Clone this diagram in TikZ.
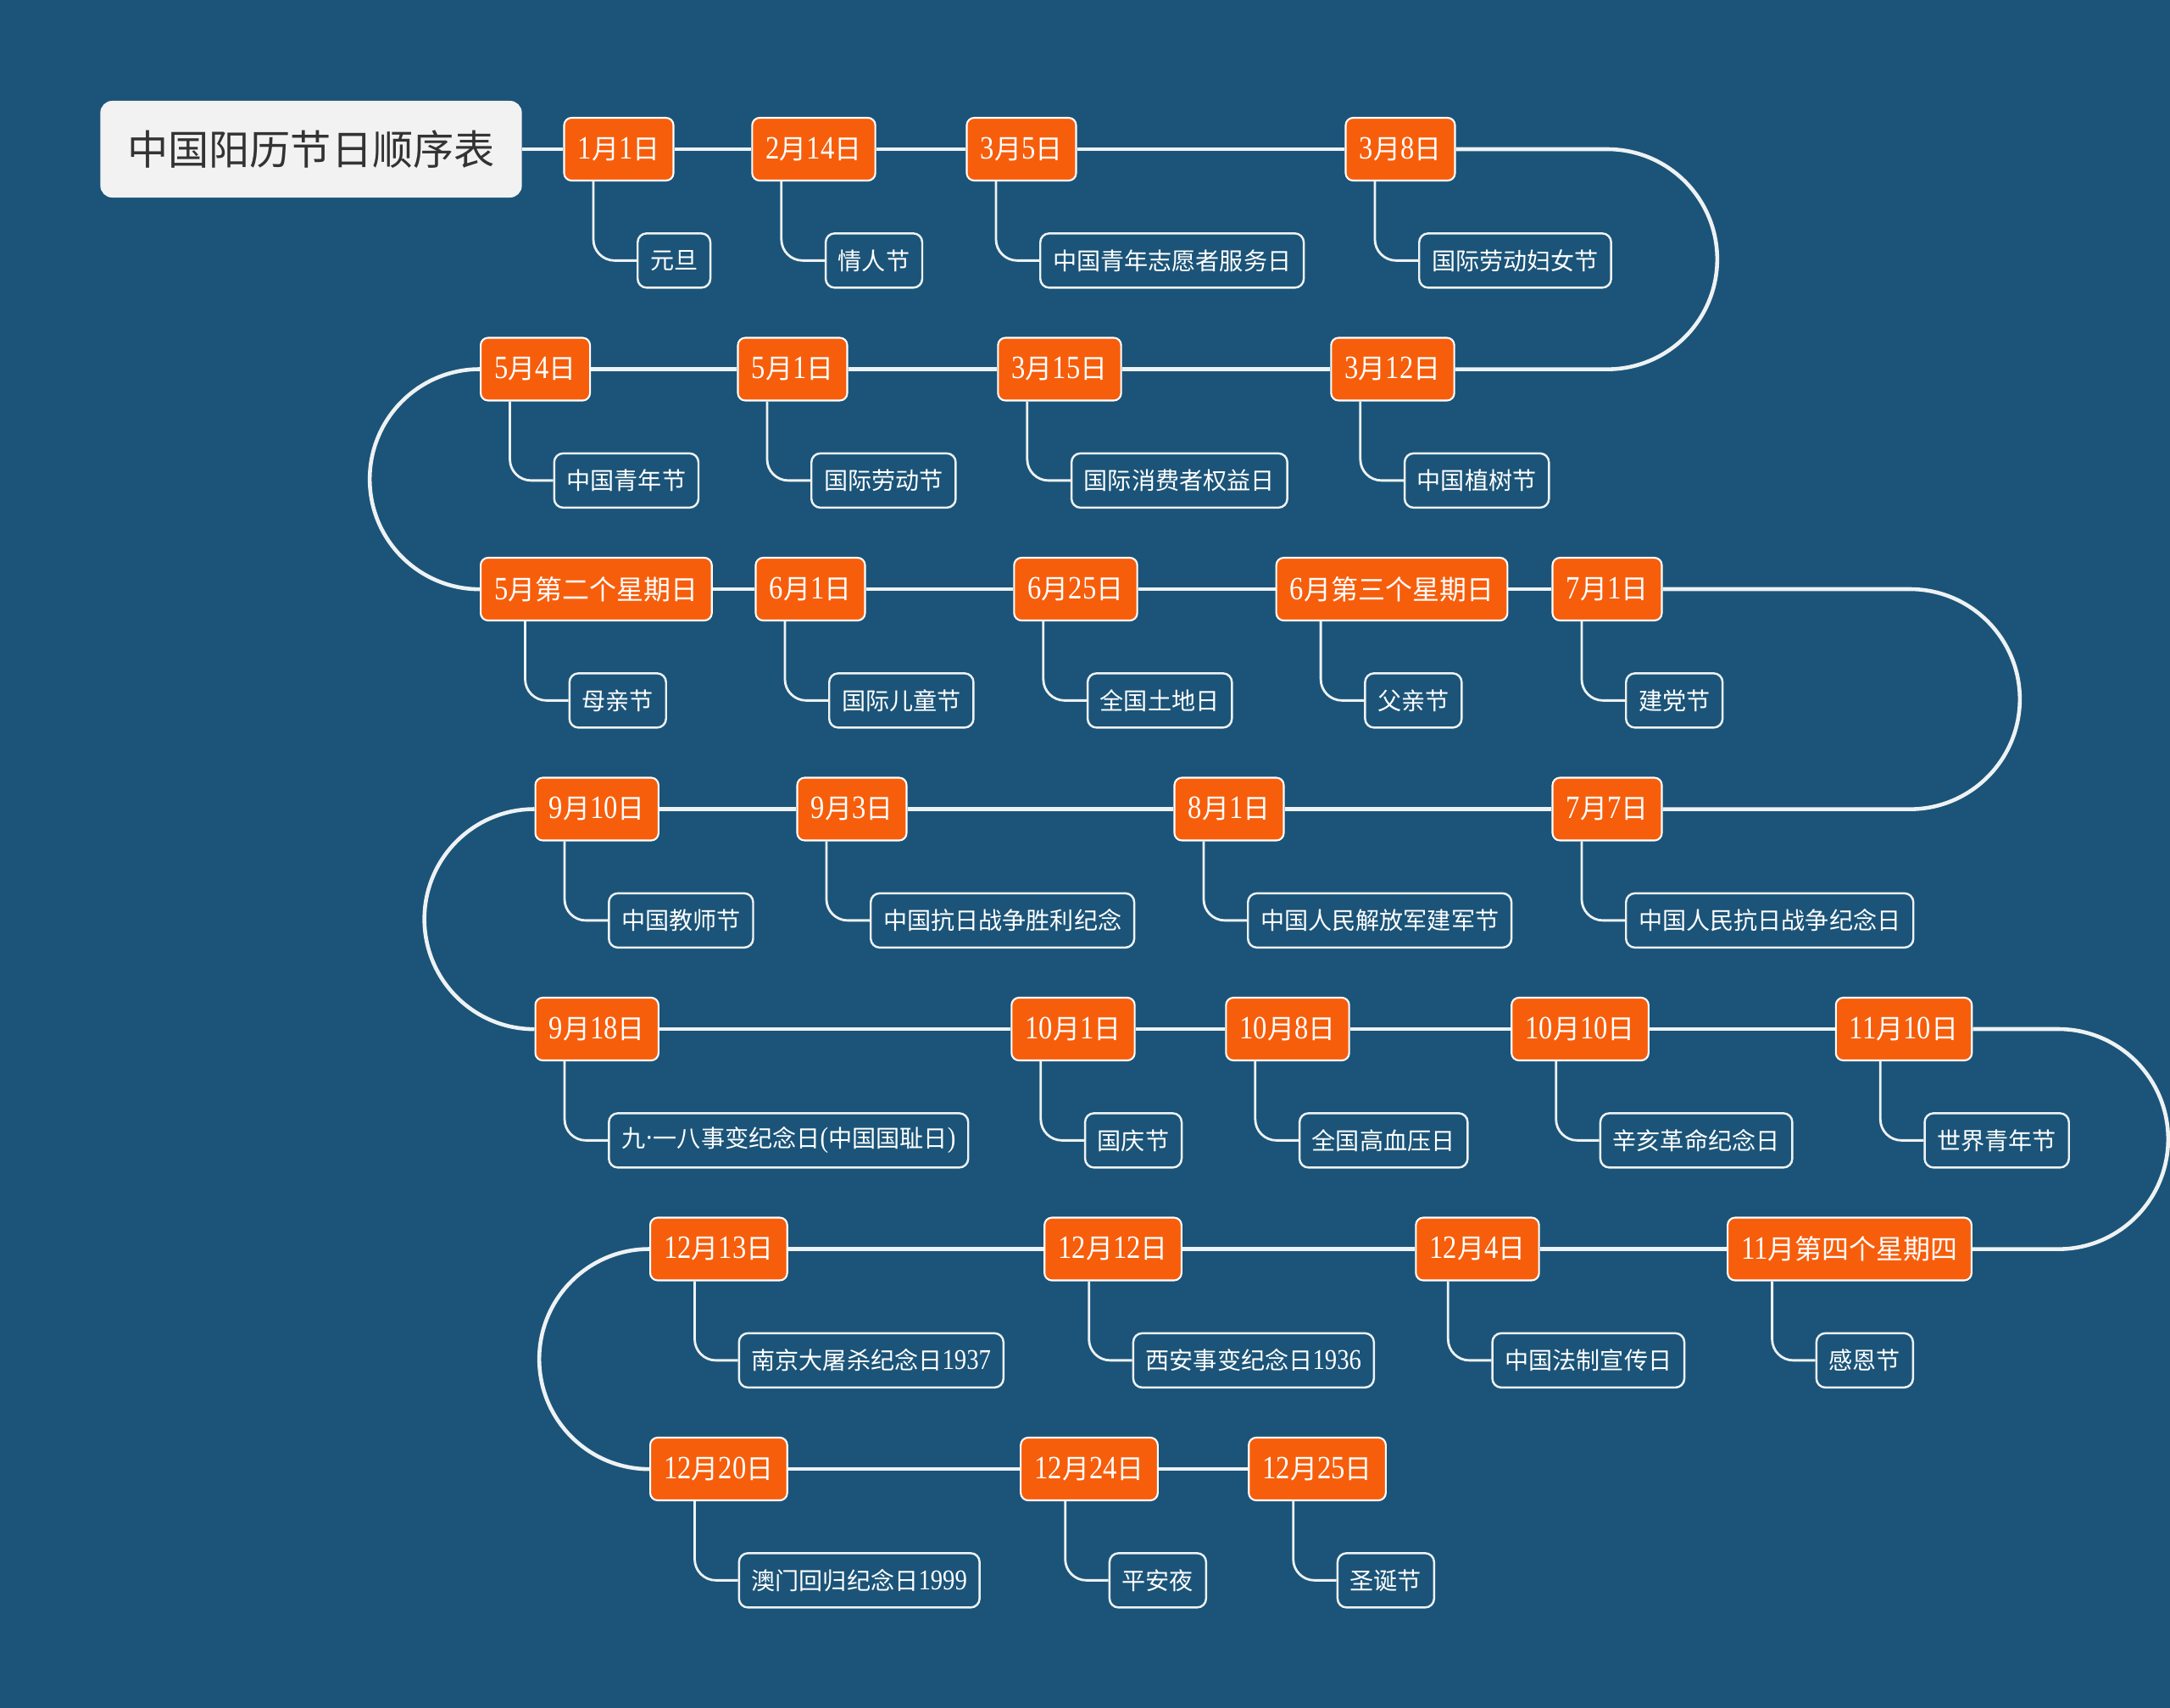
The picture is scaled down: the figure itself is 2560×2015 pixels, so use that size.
\documentclass[tikz,border=0pt]{standalone}
\usepackage{fontspec}
\setmainfont{Noto Sans CJK SC}
\newfontfamily\numfont{Liberation Serif}[Scale=1.2,FakeStretch=0.85]
\usetikzlibrary{positioning}
\definecolor{BgBlue}{HTML}{1B5478}
\definecolor{DateOrange}{HTML}{F65E0C}
\definecolor{LineWhite}{HTML}{EEF2F4}
\definecolor{TitleGray}{HTML}{F2F2F2}
\definecolor{TitleText}{HTML}{333333}
\newcommand{\dnum}[1]{{\numfont #1}}
\newcommand{\mday}[2]{\dnum{#1}月\dnum{#2}日}

\begin{document}
\begin{tikzpicture}[
    x=0.01cm, y=-0.01cm,
    datebox/.style={rectangle, draw=white, line width=0.6pt, fill=DateOrange, rounded corners=2.5pt, minimum height=0.74cm, inner xsep=4.6pt, inner ysep=0pt, font=\fontsize{9.1}{11}\selectfont, text=white},
    eventbox/.style={rectangle, draw=LineWhite, line width=0.7pt, fill=BgBlue, rounded corners=3pt, minimum height=0.64cm, inner xsep=4.2pt, inner ysep=0pt, font=\fontsize{8}{10}\selectfont, text=white},
    titlebox/.style={rectangle, fill=TitleGray, rounded corners=4pt, minimum width=4.97cm, minimum height=1.14cm, font=\fontsize{13.7}{16}\selectfont, text=TitleText},
    trunk/.style={LineWhite, line width=1.3pt},
    branch/.style={LineWhite, line width=0.8pt, rounded corners=0.25cm}
  ]
  \useasboundingbox (0,0) rectangle (2560,2015);
  \fill[BgBlue] (0,0) rectangle (2560,2015);

  % dates
  \node[titlebox] (title) at (367,176) {中国阳历节日顺序表};
  \node[datebox] (d1) at (730,176) {\mday{1}{1}};
  \node[datebox] (d2) at (960,176) {\mday{2}{14}};
  \node[datebox] (d3) at (1205,176) {\mday{3}{5}};
  \node[datebox] (d4) at (1652,176) {\mday{3}{8}};

  \node[datebox] (d5) at (1643,435.5) {\mday{3}{12}};
  \node[datebox] (d6) at (1250,435.5) {\mday{3}{15}};
  \node[datebox] (d7) at (935,435.5) {\mday{5}{1}};
  \node[datebox, anchor=west] (d8) at (566,435.5) {\mday{5}{4}};

  \node[datebox, anchor=west] (d9) at (566,695) {\dnum{5}月第二个星期日};
  \node[datebox] (d10) at (956,695) {\mday{6}{1}};
  \node[datebox] (d11) at (1269,695) {\mday{6}{25}};
  \node[datebox] (d12) at (1642,695) {\dnum{6}月第三个星期日};
  \node[datebox] (d13) at (1896,695) {\mday{7}{1}};

  \node[datebox] (d14) at (1896,954.5) {\mday{7}{7}};
  \node[datebox] (d15) at (1450,954.5) {\mday{8}{1}};
  \node[datebox] (d16) at (1005,954.5) {\mday{9}{3}};
  \node[datebox, anchor=west] (d17) at (630.5,954.5) {\mday{9}{10}};

  \node[datebox, anchor=west] (d18) at (630.5,1214) {\mday{9}{18}};
  \node[datebox] (d19) at (1266,1214) {\mday{10}{1}};
  \node[datebox] (d20) at (1519,1214) {\mday{10}{8}};
  \node[datebox] (d21) at (1864,1214) {\mday{10}{10}};
  \node[datebox] (d22) at (2246,1214) {\mday{11}{10}};

  \node[datebox] (d23) at (2182,1473.5) {\dnum{11}月第四个星期四};
  \node[datebox] (d24) at (1743,1473.5) {\mday{12}{4}};
  \node[datebox] (d25) at (1313,1473.5) {\mday{12}{12}};
  \node[datebox, anchor=west] (d26) at (766,1473.5) {\mday{12}{13}};

  \node[datebox, anchor=west] (d27) at (766,1733) {\mday{12}{20}};
  \node[datebox] (d28) at (1285,1733) {\mday{12}{24}};
  \node[datebox] (d29) at (1554,1733) {\mday{12}{25}};

  % holidays
  \node[eventbox, below right=0.6cm and 0.865cm of d1.south west] (e1) {元旦};
  \node[eventbox, below right=0.6cm and 0.865cm of d2.south west] (e2) {情人节};
  \node[eventbox, below right=0.6cm and 0.865cm of d3.south west] (e3) {中国青年志愿者服务日};
  \node[eventbox, below right=0.6cm and 0.865cm of d4.south west] (e4) {国际劳动妇女节};
  \node[eventbox, below right=0.6cm and 0.865cm of d5.south west] (e5) {中国植树节};
  \node[eventbox, below right=0.6cm and 0.865cm of d6.south west] (e6) {国际消费者权益日};
  \node[eventbox, below right=0.6cm and 0.865cm of d7.south west] (e7) {国际劳动节};
  \node[eventbox, below right=0.6cm and 0.865cm of d8.south west] (e8) {中国青年节};
  \node[eventbox, below right=0.6cm and 1.045cm of d9.south west] (e9) {母亲节};
  \node[eventbox, below right=0.6cm and 0.865cm of d10.south west] (e10) {国际儿童节};
  \node[eventbox, below right=0.6cm and 0.865cm of d11.south west] (e11) {全国土地日};
  \node[eventbox, below right=0.6cm and 1.045cm of d12.south west] (e12) {父亲节};
  \node[eventbox, below right=0.6cm and 0.865cm of d13.south west] (e13) {建党节};
  \node[eventbox, below right=0.6cm and 0.865cm of d14.south west] (e14) {中国人民抗日战争纪念日};
  \node[eventbox, below right=0.6cm and 0.865cm of d15.south west] (e15) {中国人民解放军建军节};
  \node[eventbox, below right=0.6cm and 0.865cm of d16.south west] (e16) {中国抗日战争胜利纪念};
  \node[eventbox, below right=0.6cm and 0.865cm of d17.south west] (e17) {中国教师节};
  \node[eventbox, below right=0.6cm and 0.865cm of d18.south west] (e18) {九\dnum{·}一八事变纪念日\dnum{(}中国国耻日\dnum{)}};
  \node[eventbox, below right=0.6cm and 0.865cm of d19.south west] (e19) {国庆节};
  \node[eventbox, below right=0.6cm and 0.865cm of d20.south west] (e20) {全国高血压日};
  \node[eventbox, below right=0.6cm and 1.045cm of d21.south west] (e21) {辛亥革命纪念日};
  \node[eventbox, below right=0.6cm and 1.045cm of d22.south west] (e22) {世界青年节};
  \node[eventbox, below right=0.6cm and 1.045cm of d23.south west] (e23) {感恩节};
  \node[eventbox, below right=0.6cm and 0.9cm of d24.south west] (e24) {中国法制宣传日};
  \node[eventbox, below right=0.6cm and 1.045cm of d25.south west] (e25) {西安事变纪念日\dnum{1936}};
  \node[eventbox, below right=0.6cm and 1.045cm of d26.south west] (e26) {南京大屠杀纪念日\dnum{1937}};
  \node[eventbox, below right=0.6cm and 1.045cm of d27.south west] (e27) {澳门回归纪念日\dnum{1999}};
  \node[eventbox, below right=0.6cm and 1.045cm of d28.south west] (e28) {平安夜};
  \node[eventbox, below right=0.6cm and 1.045cm of d29.south west] (e29) {圣诞节};

  % main line
  \draw[trunk] (title) -- (d1);
  \draw[trunk] (d1) -- (d2);
  \draw[trunk] (d2) -- (d3);
  \draw[trunk] (d3) -- (d4);
  \draw[trunk] (d4) -- (1896,176) arc[start angle=90, end angle=-90, radius=1.2975cm] -- (d5);
  \draw[trunk] (d5) -- (d6);
  \draw[trunk] (d6) -- (d7);
  \draw[trunk] (d7) -- (d8);
  \draw[trunk] (d8.west) arc[start angle=90, end angle=270, radius=1.2975cm];
  \draw[trunk] (d9) -- (d10);
  \draw[trunk] (d10) -- (d11);
  \draw[trunk] (d11) -- (d12);
  \draw[trunk] (d12) -- (d13);
  \draw[trunk] (d13) -- (2253,695) arc[start angle=90, end angle=-90, radius=1.2975cm] -- (d14);
  \draw[trunk] (d14) -- (d15);
  \draw[trunk] (d15) -- (d16);
  \draw[trunk] (d16) -- (d17);
  \draw[trunk] (d17.west) arc[start angle=90, end angle=270, radius=1.2975cm];
  \draw[trunk] (d18) -- (d19);
  \draw[trunk] (d19) -- (d20);
  \draw[trunk] (d20) -- (d21);
  \draw[trunk] (d21) -- (d22);
  \draw[trunk] (d22) -- (2428,1214) arc[start angle=90, end angle=-90, radius=1.2975cm] -- (d23);
  \draw[trunk] (d23) -- (d24);
  \draw[trunk] (d24) -- (d25);
  \draw[trunk] (d25) -- (d26);
  \draw[trunk] (d26.west) arc[start angle=90, end angle=270, radius=1.2975cm];
  \draw[trunk] (d27) -- (d28);
  \draw[trunk] (d28) -- (d29);

  % branches
  \draw[branch] (d1.south -| e1.west) ++(-0.51cm,0) |- (e1.west);
  \draw[branch] (d2.south -| e2.west) ++(-0.51cm,0) |- (e2.west);
  \draw[branch] (d3.south -| e3.west) ++(-0.51cm,0) |- (e3.west);
  \draw[branch] (d4.south -| e4.west) ++(-0.51cm,0) |- (e4.west);
  \draw[branch] (d5.south -| e5.west) ++(-0.51cm,0) |- (e5.west);
  \draw[branch] (d6.south -| e6.west) ++(-0.51cm,0) |- (e6.west);
  \draw[branch] (d7.south -| e7.west) ++(-0.51cm,0) |- (e7.west);
  \draw[branch] (d8.south -| e8.west) ++(-0.51cm,0) |- (e8.west);
  \draw[branch] (d9.south -| e9.west) ++(-0.51cm,0) |- (e9.west);
  \draw[branch] (d10.south -| e10.west) ++(-0.51cm,0) |- (e10.west);
  \draw[branch] (d11.south -| e11.west) ++(-0.51cm,0) |- (e11.west);
  \draw[branch] (d12.south -| e12.west) ++(-0.51cm,0) |- (e12.west);
  \draw[branch] (d13.south -| e13.west) ++(-0.51cm,0) |- (e13.west);
  \draw[branch] (d14.south -| e14.west) ++(-0.51cm,0) |- (e14.west);
  \draw[branch] (d15.south -| e15.west) ++(-0.51cm,0) |- (e15.west);
  \draw[branch] (d16.south -| e16.west) ++(-0.51cm,0) |- (e16.west);
  \draw[branch] (d17.south -| e17.west) ++(-0.51cm,0) |- (e17.west);
  \draw[branch] (d18.south -| e18.west) ++(-0.51cm,0) |- (e18.west);
  \draw[branch] (d19.south -| e19.west) ++(-0.51cm,0) |- (e19.west);
  \draw[branch] (d20.south -| e20.west) ++(-0.51cm,0) |- (e20.west);
  \draw[branch] (d21.south -| e21.west) ++(-0.51cm,0) |- (e21.west);
  \draw[branch] (d22.south -| e22.west) ++(-0.51cm,0) |- (e22.west);
  \draw[branch] (d23.south -| e23.west) ++(-0.51cm,0) |- (e23.west);
  \draw[branch] (d24.south -| e24.west) ++(-0.51cm,0) |- (e24.west);
  \draw[branch] (d25.south -| e25.west) ++(-0.51cm,0) |- (e25.west);
  \draw[branch] (d26.south -| e26.west) ++(-0.51cm,0) |- (e26.west);
  \draw[branch] (d27.south -| e27.west) ++(-0.51cm,0) |- (e27.west);
  \draw[branch] (d28.south -| e28.west) ++(-0.51cm,0) |- (e28.west);
  \draw[branch] (d29.south -| e29.west) ++(-0.51cm,0) |- (e29.west);
\end{tikzpicture}
\end{document}
